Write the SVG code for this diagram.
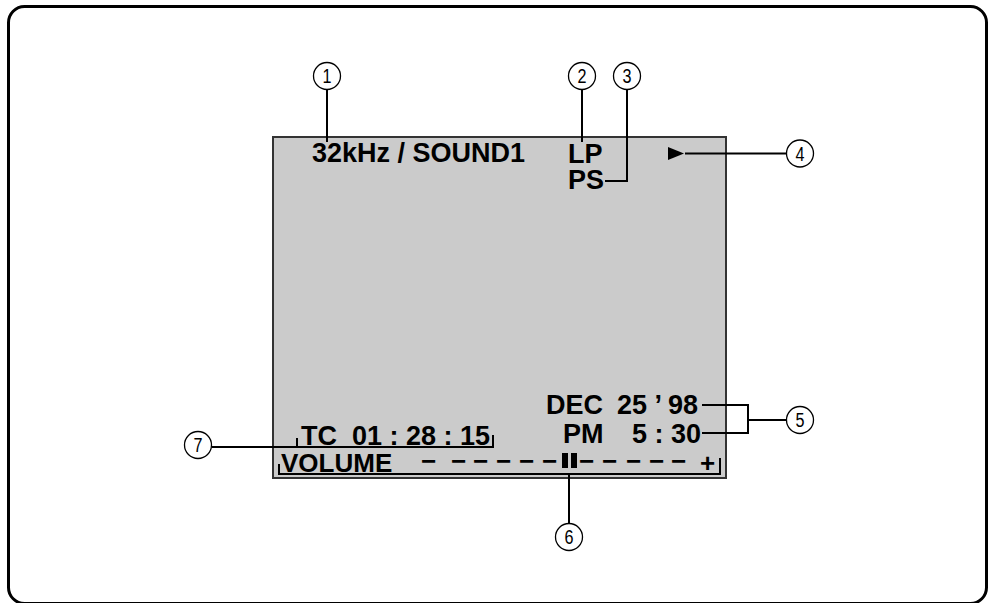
<svg xmlns="http://www.w3.org/2000/svg" width="989" height="603" viewBox="0 0 989 603">
<style>
.frame{fill:none;stroke:#000;stroke-width:3}
.screen{fill:#cbcbcb;stroke:#333;stroke-width:2}
.t{font-family:"Liberation Sans",Arial,sans-serif;font-weight:bold;font-size:27px;fill:#000;white-space:pre}
.v{font-size:26px}
.c{fill:#fff;stroke:#000;stroke-width:1.3}
.n{font-family:"Liberation Sans",Arial,sans-serif;font-size:20px;fill:#000}
.ln{fill:none;stroke:#000;stroke-width:2}
</style>
<rect class="frame" x="8.5" y="6.5" width="978" height="597" rx="16"/>
<g id="screen">
<rect class="screen" x="273" y="137" width="453" height="341"/>
<text class="t" x="312" y="162">32kHz / SOUND1</text>
<text class="t" x="568" y="163">LP</text>
<text class="t" x="568" y="189">PS</text>
<polygon points="668,147 684,153.5 668,160" fill="#000"/>
<text class="t"><tspan x="546" y="414">DEC</tspan><tspan x="617" y="414">25 ’ 98</tspan></text>
<text class="t"><tspan x="563" y="443">PM</tspan><tspan x="632" y="443">5 : 30</tspan></text>
<text class="t" x="301" y="445" xml:space="preserve">TC  01 : 28 : 15</text>
<text class="t v" x="281" y="472">VOLUME</text>
<text class="t v" x="421 451 473 496 519 542 579 602 626 649 671" y="470">−−−−−−−−−−−</text>
<rect x="562" y="453" width="6" height="15" fill="#000"/>
<rect x="571" y="453" width="6" height="15" fill="#000"/>
<text class="t v" x="700" y="472">+</text>
</g>
<g id="connectors">
<path class="ln" d="M327,90 V142"/>
<path class="ln" d="M582,90 V142"/>
<path class="ln" d="M627,90 V181 H605"/>
<path class="ln" d="M685,153.5 H786"/>
<path class="ln" d="M702,405 H748 V433 H702 M748,420 H786"/>
<path class="ln" d="M569,474 V523"/>
<path class="ln" d="M212,447 H493 V435 M297,447 V438"/>
<path class="ln" d="M279,464 V474 H720 V458"/>
</g>
<g id="n1"><circle class="c" cx="327" cy="76" r="13.5"/><text class="n" x="322.5" y="83" textLength="9" lengthAdjust="spacingAndGlyphs">1</text></g>
<g id="n2"><circle class="c" cx="582" cy="76" r="13.5"/><text class="n" x="577.5" y="83" textLength="9" lengthAdjust="spacingAndGlyphs">2</text></g>
<g id="n3"><circle class="c" cx="627" cy="76" r="13.5"/><text class="n" x="622.5" y="83" textLength="9" lengthAdjust="spacingAndGlyphs">3</text></g>
<g id="n4"><circle class="c" cx="800" cy="153.5" r="13.5"/><text class="n" x="795.5" y="160.5" textLength="9" lengthAdjust="spacingAndGlyphs">4</text></g>
<g id="n5"><circle class="c" cx="800" cy="420" r="13.5"/><text class="n" x="795.5" y="427" textLength="9" lengthAdjust="spacingAndGlyphs">5</text></g>
<g id="n6"><circle class="c" cx="569" cy="537" r="13.5"/><text class="n" x="564.5" y="544" textLength="9" lengthAdjust="spacingAndGlyphs">6</text></g>
<g id="n7"><circle class="c" cx="198" cy="445" r="13.5"/><text class="n" x="193.5" y="452" textLength="9" lengthAdjust="spacingAndGlyphs">7</text></g>
</svg>
